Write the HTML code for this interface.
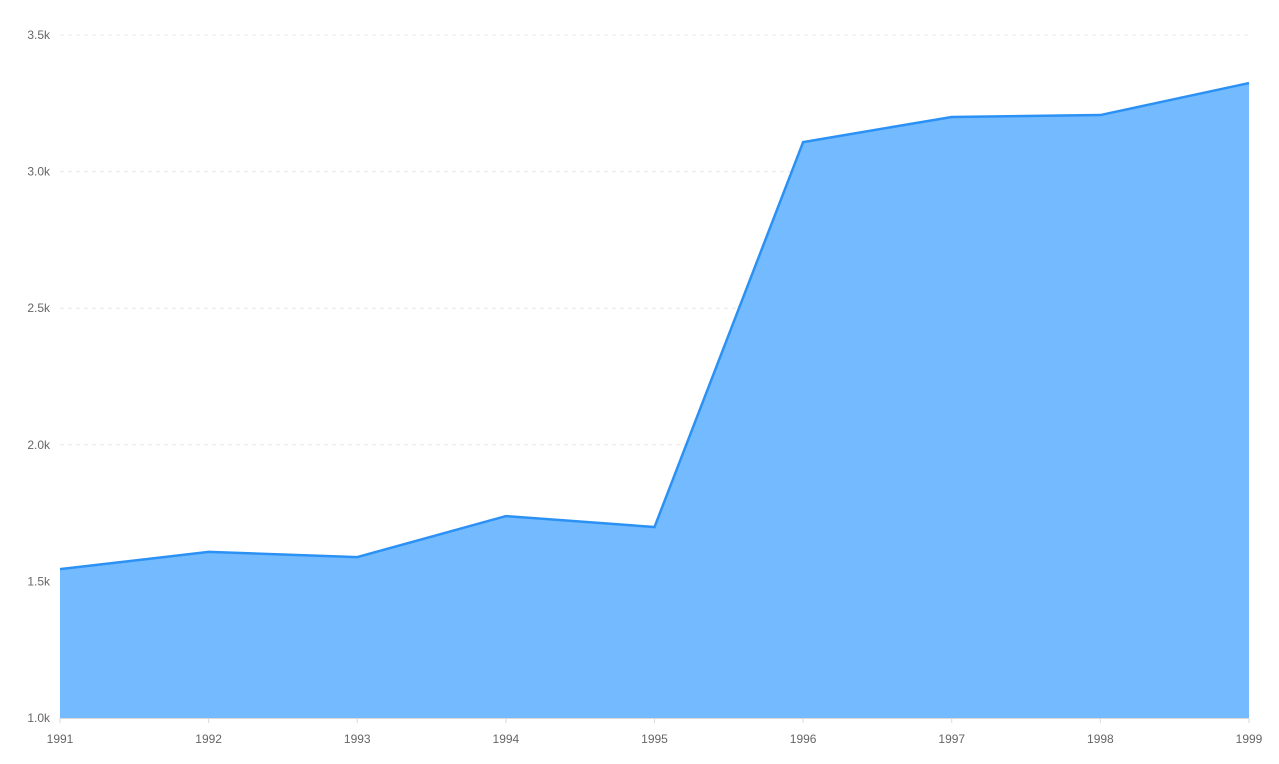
<!DOCTYPE html>
<html><head><meta charset="utf-8"><style>
body{margin:0;background:#fff;font-family:"Liberation Sans",sans-serif}
svg text{font-family:"Liberation Sans",sans-serif;font-size:12px;fill:#666}
</style></head><body>
<svg id="chart" width="1279" height="759" xmlns="http://www.w3.org/2000/svg"></svg>
<script>
const years=["1991","1992","1993","1994","1995","1996","1997","1998","1999"];
const values=[1545,1608,1589,1739,1699,3108,3200,3207,3324];
const yTicks=[1000,1500,2000,2500,3000,3500];
const yTickLabels=["1.0k","1.5k","2.0k","2.5k","3.0k","3.5k"];
const svg=document.getElementById('chart');
const NS="http://www.w3.org/2000/svg";
const x0=60,x1=1249,yb=718,yt=35,vmin=1000,vmax=3500;
function xs(i){return x0+(x1-x0)*i/(years.length-1);}
function ys(v){return yb-(v-vmin)/(vmax-vmin)*(yb-yt);}
function mk(t,a){const e=document.createElementNS(NS,t);for(const k in a)e.setAttribute(k,a[k]);svg.appendChild(e);return e;}
yTicks.forEach((v,i)=>{
  if(i>0){const g=mk('line',{x1:x0,x2:x1,y1:ys(v),y2:ys(v),stroke:'#e8e8e8','stroke-dasharray':'4 4'});
  
  }
  const t=mk('text',{x:50,y:ys(v)+4,'text-anchor':'end'});t.textContent=yTickLabels[i];
  
  
});
let d=`M${xs(0)},${yb}`;values.forEach((v,i)=>d+=` L${xs(i)},${ys(v)}`);d+=` L${xs(values.length-1)},${yb} Z`;
const area=mk('path',{d:d,fill:'#74baff'});


let l='';values.forEach((v,i)=>l+=(i?' L':'M')+xs(i)+','+ys(v));
const line=mk('path',{d:l,fill:'none',stroke:'#2b91f5','stroke-width':2.5});


const ax=mk('line',{x1:x0,x2:x1,y1:yb+0.5,y2:yb+0.5,stroke:'#d9d9d9'});


years.forEach((y,i)=>{
  const tk=mk('line',{x1:xs(i),x2:xs(i),y1:yb,y2:yb+5,stroke:'#d9d9d9'});
  
  
  const t=mk('text',{x:xs(i),y:743,'text-anchor':'middle'});t.textContent=y;
  
  
});
</script>
</body></html>
